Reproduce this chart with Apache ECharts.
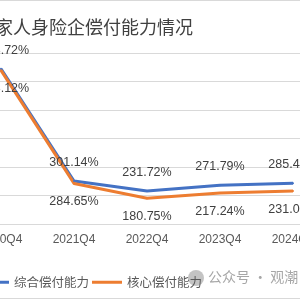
<!DOCTYPE html>
<html>
<head>
<meta charset="utf-8">
<script src="https://cdn.jsdelivr.net/npm/echarts@6/dist/echarts.min.js"></script>
<style>
  html, body { margin: 0; padding: 0; background: #fff; overflow: hidden; width: 300px; height: 300px; }
  #chart { position: absolute; left: -60px; top: 0; width: 420px; height: 300px; }
</style>
</head>
<body>
<div id="chart"></div>
<script>
const quarters = ['2020Q4', '2021Q4', '2022Q4', '2023Q4', '2024Q4']
const comprehensive = [1088.72, 301.14, 231.72, 271.79, 285.44]
const core = [1078.12, 284.65, 180.75, 217.24, 231.07]
const yTicks = { min: 0, max: 1200, interval: 200 }

// the picture is a crop: the chart is wider than the window and shifted left by 60px
const shift = 60
const chart = echarts.init(document.getElementById('chart'), null, { renderer: 'canvas' })

const textFont = '"Noto Sans CJK SC", "Liberation Sans", sans-serif'

const option = {
  animation: false,
  title: {
    text: '家人身险企偿付能力情况',
    left: shift - 10,
    top: 13,
    textStyle: { fontFamily: textFont, fontSize: 18, fontWeight: 'normal', color: '#404040' },
  },
  legend: {
    data: ['综合偿付能力', '核心偿付能力'],
    left: shift - 26,
    top: 271,
    itemWidth: 30,
    itemHeight: 3,
    itemGap: 3,
    icon: 'rect',
    textStyle: { fontFamily: textFont, fontSize: 12.5, color: '#595959' },
  },
  grid: { left: shift - 35.5, right: 30.5, top: 53, bottom: 76, containLabel: false },
  xAxis: {
    type: 'category',
    data: quarters,
    boundaryGap: true,
    axisLine: { lineStyle: { color: '#d9d9d9', width: 1 } },
    axisTick: { show: false },
    axisLabel: { color: '#595959', fontSize: 12, fontFamily: '"Liberation Sans", sans-serif', margin: 10 },
  },
  yAxis: {
    type: 'value',
    min: yTicks.min,
    max: yTicks.max,
    interval: yTicks.interval,
    axisLabel: { show: false },
    axisLine: { show: false },
    axisTick: { show: false },
    splitLine: { lineStyle: { color: '#d9d9d9', width: 1 } },
  },
  graphic: [
    { type: 'line', shape: { x1: 0, y1: 0.5, x2: 420, y2: 0.5 }, style: { stroke: '#d9d9d9', lineWidth: 1 } },
    { type: 'line', shape: { x1: 0, y1: 298.5, x2: 420, y2: 298.5 }, style: { stroke: '#d9d9d9', lineWidth: 1 } },
    {
      type: 'text', left: shift + 208, top: 270,
      style: { text: '公众号 · 观潮', fill: 'rgba(150,150,150,0.85)', font: '14px "Noto Sans CJK SC", sans-serif' },
    },
    { type: 'circle', shape: { cx: shift + 196, cy: 278, r: 8 }, style: { fill: 'rgba(170,170,170,0.7)' } },
  ],
  series: [
    {
      name: '综合偿付能力',
      type: 'line',
      data: comprehensive,
      color: '#4472C4',
      symbol: 'circle',
      symbolSize: 2,
      lineStyle: { width: 3 },
      label: {
        show: true,
        position: 'top',
        distance: 11,
        color: '#404040',
        fontSize: 12.5,
        fontFamily: '"Liberation Sans", sans-serif',
        formatter: p => p.value.toFixed(2) + '%',
      },
    },
    {
      name: '核心偿付能力',
      type: 'line',
      data: core,
      color: '#ED7D31',
      symbol: 'circle',
      symbolSize: 2,
      lineStyle: { width: 3 },
      label: {
        show: true,
        position: 'bottom',
        distance: 11,
        color: '#404040',
        fontSize: 12.5,
        fontFamily: '"Liberation Sans", sans-serif',
        formatter: p => p.value.toFixed(2) + '%',
      },
    },
  ],
}

chart.setOption(option)
</script>
</body>
</html>
